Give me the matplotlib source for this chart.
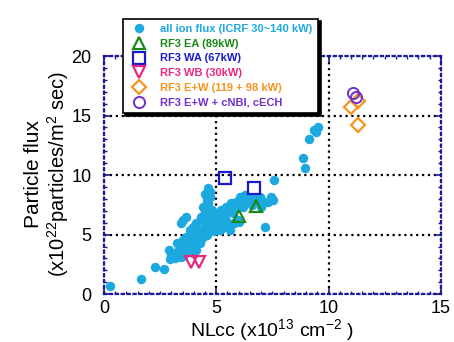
import matplotlib as mpl
import matplotlib.pyplot as plt
from matplotlib.ticker import MultipleLocator

mpl.use("Agg")
plt.rcParams["font.family"] = ["Liberation Sans", "DejaVu Sans"]
plt.rcParams["mathtext.default"] = "regular"

# all ion flux (ICRF 30~140 kW)
all_x = [0.27, 1.67, 2.27, 2.67, 2.93, 3.16, 3.45, 2.9, 3.23, 3.52, 3.67, 3.82,
         3.97, 4.12, 4.27, 4.41, 4.27, 4.49, 4.64, 4.56, 4.79, 4.86, 4.41, 4.64,
         4.71, 4.64, 3.52, 3.45, 5.01, 5.16, 5.3, 5.52, 5.6, 5.38, 5.23, 5.08,
         5.23, 5.45, 5.67, 5.9, 6.04, 6.27, 6.49, 6.34, 6.19, 5.75, 5.97, 7.08,
         7.3, 7.45, 7.52, 7.16, 7.56, 6.93, 6.78, 3.82, 3.97, 4.12, 3.9, 3.67,
         3.38, 4.12, 3.97, 4.56, 4.79, 4.34, 4.71, 3.67, 8.85, 8.97, 9.14, 9.36,
         9.51, 9.45, 4.0, 4.2, 4.5, 4.9, 5.3, 5.8, 6.6, 7.0,
         3.0, 3.3, 3.6, 3.8, 4.0, 4.2, 4.4, 4.6, 4.8, 5.0, 5.2, 5.5, 5.8, 6.1,
         6.4, 6.7, 7.0, 3.5, 3.7, 4.0, 4.3, 4.6, 4.9, 5.2, 5.5, 4.5, 4.6, 4.5,
         3.9, 4.1, 5.8, 6.0]
all_y = [0.67, 1.23, 2.24, 2.07, 2.92, 3.0, 3.08, 3.7, 4.26, 4.54, 4.82, 3.97,
         3.42, 3.7, 4.26, 4.82, 5.38, 5.94, 6.22, 6.78, 7.06, 6.5, 7.34, 7.62,
         8.18, 8.88, 6.22, 5.94, 5.94, 5.38, 5.66, 5.94, 5.38, 6.36, 6.22, 6.78,
         7.06, 7.34, 7.62, 7.76, 8.18, 8.32, 8.04, 7.76, 7.34, 6.78, 6.22, 7.62,
         7.76, 8.18, 7.9, 5.6, 9.58, 8.18, 7.9, 5.38, 5.66, 5.94, 4.82, 4.12,
         3.97, 4.54, 4.12, 5.66, 5.52, 6.5, 8.6, 6.5, 11.4, 10.56, 13.0, 13.8,
         14.0, 13.6, 5.0, 5.2, 5.0, 6.0, 6.6, 7.2, 7.5, 7.3,
         3.3, 3.6, 3.9, 4.4, 4.7, 5.1, 5.4, 5.8, 6.1, 6.5, 6.9, 7.0, 7.3, 7.6,
         7.9, 8.1, 8.0, 3.2, 3.5, 3.9, 4.6, 5.0, 5.3, 5.5, 5.7, 7.0, 7.9, 8.4,
         5.0, 5.5, 6.0, 6.1]

ea_x = [6.01, 6.78]
ea_y = [6.58, 7.39]
wa_x = [5.37, 6.66]
wa_y = [9.72, 8.88]
wb_x = [3.89, 4.23]
wb_y = [2.72, 2.72]
ew_x = [10.99, 11.29, 11.32]
ew_y = [15.7, 16.2, 14.2]
nbi_x = [11.1, 11.21]
nbi_y = [16.9, 16.6]

labels = ["all ion flux (ICRF 30~140 kW)", "RF3 EA (89kW)", "RF3 WA (67kW)",
          "RF3 WB (30kW)", "RF3 E+W (119 + 98 kW)", "RF3 E+W + cNBI, cECH"]
colors = ["#1BA9E0", "#178A17", "#1A1ACC", "#E8287F", "#F7931E", "#7030D0"]

fig = plt.figure(figsize=(4.54, 3.42), dpi=100)
ax = fig.add_axes([0.229, 0.140, 0.742, 0.696])

ax.plot(all_x, all_y, "o", color=colors[0], ms=6.8, mec="none", label=labels[0])
ax.plot(ea_x, ea_y, "^", mfc="none", mec=colors[1], mew=1.6, ms=8, label=labels[1])
ax.plot(wa_x, wa_y, "s", mfc="none", mec=colors[2], mew=1.6, ms=8, label=labels[2])
ax.plot(wb_x, wb_y, "v", mfc="none", mec=colors[3], mew=1.6, ms=8, label=labels[3])
ax.plot(ew_x, ew_y, "D", mfc="none", mec=colors[4], mew=1.6, ms=7.5, label=labels[4])
ax.plot(nbi_x, nbi_y, "o", mfc="none", mec=colors[5], mew=1.4, ms=8, label=labels[5])

ax.set_xlim(0, 15)
ax.set_ylim(0, 20)
ax.xaxis.set_major_locator(MultipleLocator(5))
ax.yaxis.set_major_locator(MultipleLocator(5))
ax.xaxis.set_minor_locator(MultipleLocator(0.5))
ax.yaxis.set_minor_locator(MultipleLocator(1))
ax.grid(True, which="major", color="black", linestyle=":", linewidth=1.6)
for s in ax.spines.values():
    s.set_color("#1A1A99")
    s.set_linestyle(":")
    s.set_linewidth(1.6)
ax.tick_params(which="both", direction="in", top=True, right=True, color="#1A1A99",
               labelsize=13)
ax.tick_params(which="major", length=4, width=1.2, pad=4)
ax.tick_params(which="minor", length=2.5, width=1)
ax.tick_params(axis="y", which="major", pad=9)

ax.set_xlabel("NLcc (x10$^{13}$ cm$^{-2}$ )", fontsize=14, labelpad=0)
fig.text(0.074, 0.49, "Particle flux", rotation=90, fontsize=15, ha="center", va="center")
fig.text(0.128, 0.49, "(x10$^{22}$particles/m$^2$ sec)", rotation=90, fontsize=14.5,
         ha="center", va="center")

leg = ax.legend(loc="upper left", bbox_to_anchor=(0.258, 0.962),
                bbox_transform=fig.transFigure, fancybox=False,
                shadow={"color": "black", "alpha": 1},
                framealpha=1, edgecolor="black", prop={"weight": "bold", "size": 8},
                handletextpad=0.9, labelspacing=0.42, borderpad=0.5, numpoints=1)
leg.get_frame().set_linewidth(1.2)
for t, c in zip(leg.get_texts(), colors):
    t.set_color(c)

fig.savefig("out.png", dpi=100)
